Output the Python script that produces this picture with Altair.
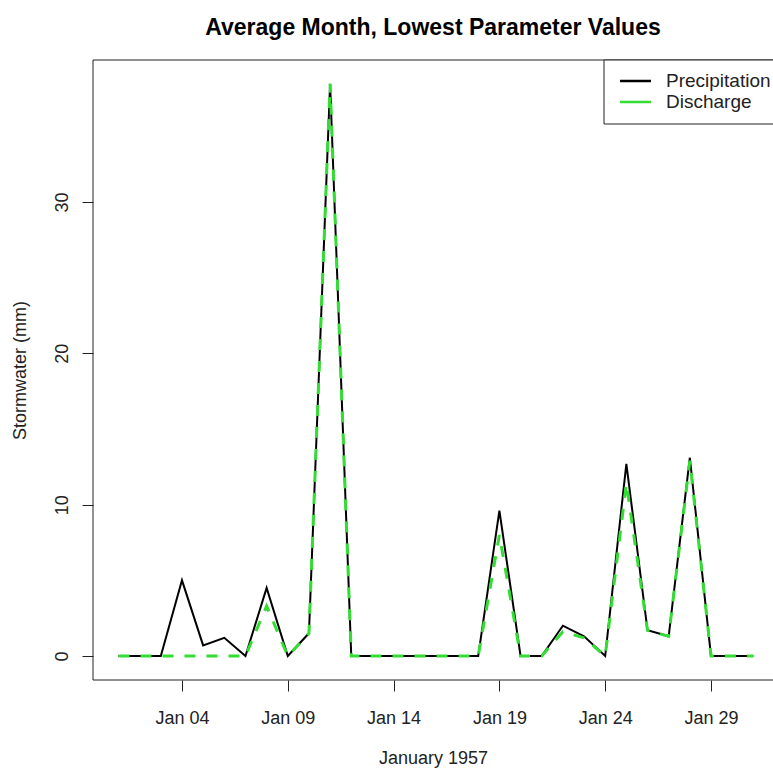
import altair as alt
import pandas as pd

# Daily values for January 1957 (mm)
days = list(range(1, 32))
precipitation = [0, 0, 0, 5.0, 0.7, 1.2, 0, 4.5, 0, 1.5, 37.8, 0, 0, 0, 0, 0, 0, 0,
                 9.6, 0, 0, 2.0, 1.3, 0, 12.7, 1.7, 1.3, 13.1, 0, 0, 0]
discharge = [0, 0, 0, 0, 0, 0, 0, 3.3, 0, 1.5, 37.8, 0, 0, 0, 0, 0, 0, 0,
             8.0, 0, 0, 1.6, 1.2, 0, 11.4, 1.7, 1.3, 12.9, 0, 0, 0]

tick_days = [4, 9, 14, 19, 24, 29]
y_ticks = [0, 10, 20, 30]
series_names = ["Precipitation", "Discharge"]
series_colors = ["#000000", "#33dd33"]

df = pd.DataFrame({"day": days, "Precipitation": precipitation, "Discharge": discharge})

FONT = "Liberation Sans"
PLOT_W, PLOT_H = 680, 620
FRAME = "#222"

x_enc = alt.X(
    "day:Q",
    scale=alt.Scale(domain=[-0.205, 31.93], nice=False, zero=False),
    axis=alt.Axis(
        values=tick_days,
        labelExpr="'Jan ' + (datum.value < 10 ? '0' : '') + datum.value",
        title="January 1957",
        titleY=78,
        titleBaseline="middle",
        labelPadding=18,
        labelBaseline="top",
    ),
)
y_scale = alt.Scale(domain=[-1.586, 39.38], nice=False, zero=False)
y_axis = alt.Axis(
    values=y_ticks,
    title="Stormwater (mm)",
    titleX=-73,
    titleY=PLOT_H / 2,
    titleBaseline="middle",
    titleAlign="center",
    labelAngle=270,
    labelAlign="center",
    labelBaseline="middle",
    labelPadding=20,
)

base = alt.Chart(df).encode(x=x_enc)

precip_line = base.mark_line(color=series_colors[0], strokeWidth=2).encode(
    y=alt.Y("Precipitation:Q", scale=y_scale, axis=y_axis)
)

discharge_line = base.mark_line(
    color=series_colors[1], strokeWidth=3, strokeDash=[11, 11]
).encode(y=alt.Y("Discharge:Q", scale=y_scale, axis=y_axis))

one = pd.DataFrame({"k": [0]})

# Plot frame: left, top and bottom edges (the right edge lies past the page)
frame = [
    alt.Chart(one).mark_rule(color=FRAME, strokeWidth=1).encode(
        x=alt.value(0), y=alt.value(0), y2=alt.value(PLOT_H)
    ),
    alt.Chart(one).mark_rule(color=FRAME, strokeWidth=1).encode(
        x=alt.value(0), x2=alt.value(PLOT_W + 10), y=alt.value(0)
    ),
    alt.Chart(one).mark_rule(color=FRAME, strokeWidth=1).encode(
        x=alt.value(0), x2=alt.value(PLOT_W + 10), y=alt.value(PLOT_H)
    ),
]

# Legend box in the top-right corner of the plot
legend_box = alt.Chart(one).mark_rect(
    fill="white", stroke=FRAME, strokeWidth=1
).encode(x=alt.value(511), x2=alt.value(PLOT_W + 20), y=alt.value(0), y2=alt.value(64))

legend_layers = [legend_box]
for i, (name, color) in enumerate(zip(series_names, series_colors)):
    yy = 21 + 21 * i
    legend_layers.append(
        alt.Chart(one).mark_rule(color=color, strokeWidth=2.5).encode(
            x=alt.value(527), x2=alt.value(558), y=alt.value(yy)
        )
    )
    legend_layers.append(
        alt.Chart(pd.DataFrame({"label": [name]})).mark_text(
            align="left", baseline="middle", font=FONT, fontSize=19, color="#222"
        ).encode(x=alt.value(573), y=alt.value(yy), text="label:N")
    )

chart = alt.layer(precip_line, discharge_line, *frame, *legend_layers).properties(
    width=PLOT_W,
    height=PLOT_H,
    title=alt.TitleParams(
        "Average Month, Lowest Parameter Values",
        font=FONT,
        fontSize=23,
        fontWeight="bold",
        color="#000",
        anchor="middle",
        offset=20,
    ),
    autosize=alt.AutoSizeParams(type="none"),
    padding={"left": 93, "top": 60, "right": 0, "bottom": 92},
).configure(
    font=FONT,
    background="white",
).configure_view(
    stroke=None
).configure_axis(
    labelFont=FONT,
    titleFont=FONT,
    labelFontSize=18,
    titleFontSize=18,
    titleFontWeight="normal",
    labelColor="#222",
    titleColor="#222",
    tickColor=FRAME,
    tickSize=11,
    domain=False,
    grid=False,
)

chart.save("out.html", embed_options={"renderer": "svg", "actions": False})
